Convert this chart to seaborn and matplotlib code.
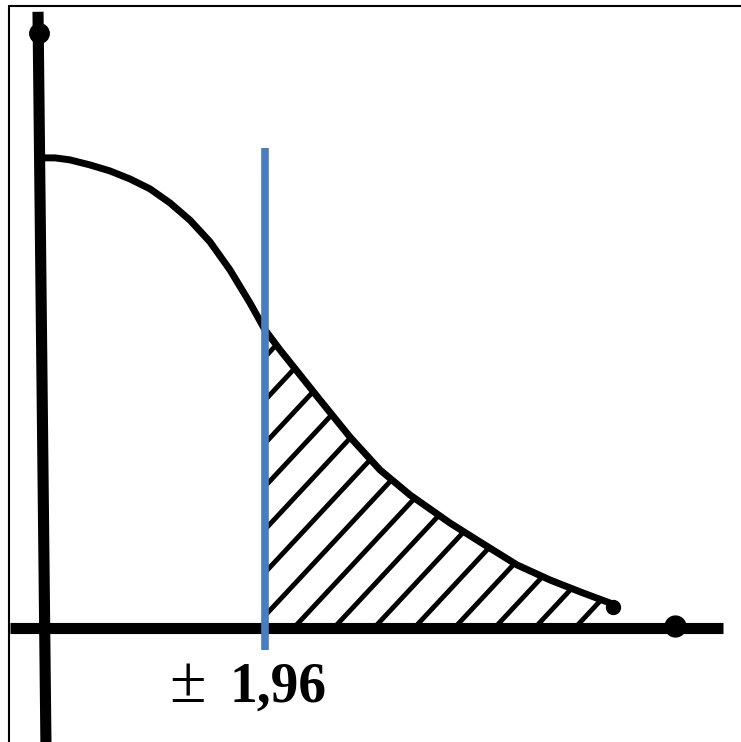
"""
Half normal curve with the rejection tail beyond 1,96 hatched.
"""
import numpy as np
import pandas
import seaborn as sns
import matplotlib
from matplotlib import pyplot as plt
from matplotlib.lines import Line2D
matplotlib.use('Agg')

sns.set_style("white")

# curve (z value, density)
curve_z = [0.0, 0.131, 0.261, 0.436, 0.610, 0.784, 0.958, 1.132, 1.307,
           1.481, 1.655, 1.829, 1.960, 2.091, 2.265, 2.439, 2.700, 2.962,
           3.223, 3.571, 3.833, 4.155, 4.443, 4.730, 4.965]
curve_d = [0.3990, 0.3990, 0.3973, 0.3930, 0.3879, 0.3811, 0.3727, 0.3608, 0.3461,
           0.3277, 0.3039, 0.2759, 0.2530, 0.2360, 0.2148, 0.1935, 0.1621, 0.1341,
           0.1129, 0.0891, 0.0730, 0.0535, 0.0407, 0.0297, 0.0212]
critical_z = 1.96
critical_label = "1,96"

## figure spans the whole canvas, axes limits chosen so the drawing sits like the original
f = plt.figure(figsize=(7.41, 7.42), dpi=100)
ax = f.add_axes([0, 0, 1, 1])
ax.set_xlim(-0.348, 6.106)
ax.set_ylim(-0.0968, 0.533)
ax.set_axis_off()

df = pandas.DataFrame({'z': curve_z, 'density': curve_d})

# axes drawn by hand (thick marker-pen look)
ax.plot([-0.261, 5.95], [0, 0], color='black', lw=8, solid_capstyle='butt', zorder=3)
ax.plot([-0.017, 0.052], [0.523, -0.0968], color='black', lw=8, solid_capstyle='butt', zorder=3)
ax.plot([5.53], [0.002], marker='o', ms=15, color='black', zorder=3)
ax.plot([-0.01], [0.505], marker='o', ms=14, color='black', zorder=3)

# the curve
sns.lineplot(data=df, x='z', y='density', color='black', lw=5, ax=ax, zorder=4)
ax.plot([curve_z[-1] + 0.03], [curve_d[-1] - 0.003], marker='o', ms=10, color='black', zorder=4)

# tail region beyond the critical value
d_crit = np.interp(critical_z, curve_z, curve_d)
tail_z = np.concatenate([[critical_z], [z for z in curve_z if z > critical_z]])
tail_d = np.concatenate([[d_crit], [d for z, d in zip(curve_z, curve_d) if z > critical_z]])
poly = ax.fill_between(tail_z, 0, tail_d, facecolor='none', edgecolor='none')
clip = poly.get_paths()[0]

slope = np.tan(np.radians(47)) * (114.8 / 1178)
for z0 in np.arange(critical_z - 3.6, tail_z[-1], 0.35):
    ln, = ax.plot([z0, z0 + 5], [0, 5 * slope], color='black', lw=3.5, zorder=2)
    ln.set_clip_path(clip, ax.transData)

# critical value line
ax.plot([critical_z, critical_z], [-0.0187, 0.407], color='#4a7cc0', lw=5.5,
        solid_capstyle='butt', zorder=5)

ax.text(1.130, -0.0628, "\u00b1", fontsize=48, family='Liberation Serif',
        color='black', va='baseline', ha='left')
ax.text(1.655, -0.0628, critical_label, fontsize=40, family='Liberation Serif',
        fontweight='bold', color='black', va='baseline', ha='left')

# thin picture frame (top and left edges)
f.add_artist(Line2D([0.01215, 1.0], [0.9919, 0.9919], color='black', lw=1.5))
f.add_artist(Line2D([0.01215, 0.01215], [0.0, 0.9919], color='black', lw=1.5))

f.savefig('out.png', dpi=100)
